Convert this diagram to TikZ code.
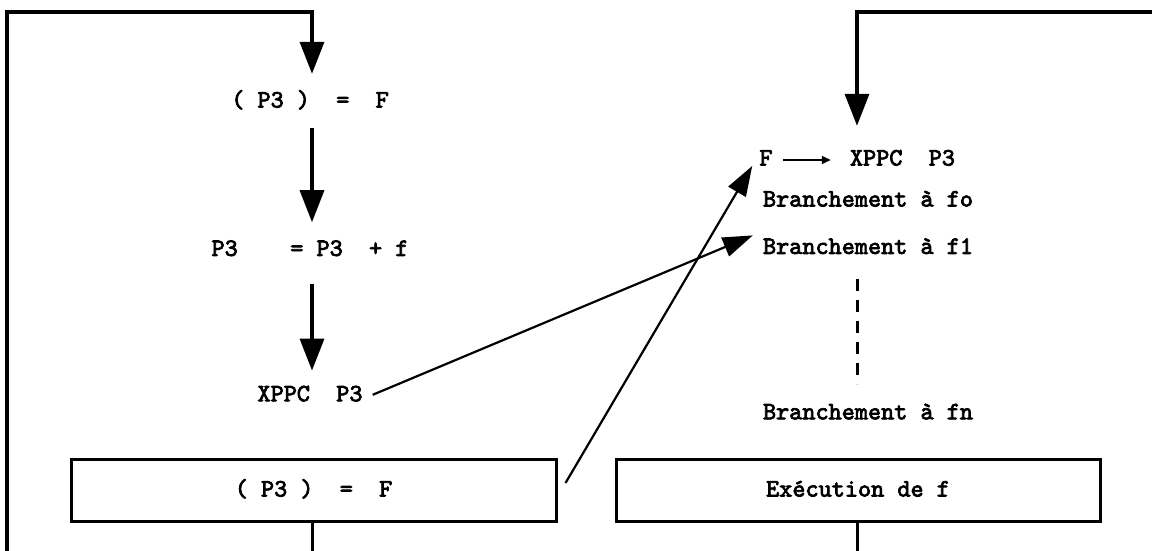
\documentclass[tikz,border=0pt]{standalone}
\usepackage{fontspec}
\newfontfamily\typer{lmmono10-regular}[Extension=.otf, FakeBold=3]
\usepackage{tikz}
\usetikzlibrary{positioning, arrows.meta}

\begin{document}
\begin{tikzpicture}[x=1pt, y=1pt, node distance=0mm]
      \tikzset{
        txt/.style={
          font=\typer\fontsize{25}{28}\selectfont,
          inner sep=0pt, text height=16pt, text depth=5pt
        },
        block/.style={
          txt, draw=black, line width=3pt, minimum width=485pt,
          minimum height=62pt
        },
        flow/.style={line width=3.5pt, -{Triangle[length=32pt, width=24pt]}},
        jump/.style={line width=2.2pt, -{Triangle[length=30pt, width=20pt]}},
        tiny/.style={line width=1.6pt, -{Triangle[length=9pt, width=8pt]}},
        wire/.style={line width=3pt},
        dots/.style={line width=3pt, dash pattern=on 12pt off 9pt}
      }
      \useasboundingbox (0,0) rectangle (1152,551);
      \coordinate (lbase) at (7,0);
      \coordinate (ltop) at (312,539);
      \coordinate (lout) at (312,0);
      \coordinate (rright) at (1152,539);
      \coordinate (rtop) at (857,539);
      \coordinate (rout) at (857,0);

      \node[txt] (cell1) at (310,449) {(~P3~)~~=~~F};
      \node[txt, below=127pt of cell1] (incr) {P3~~~~=~P3~~+~f};
      \node[txt, below=124pt of incr] (xppc) {XPPC~~P3};
      \node[block] (lbox) at (313.5,60) {(~P3~)~~=~~F};

      \node[txt] (fnode) at (766,391) {F};
      \node[txt, right=77pt of fnode] (xppcr) {XPPC~~P3};
      \node[txt] (b0) at (868,350) {Branchement à fo};
      \node[txt, below=26pt of b0] (b1) {Branchement à f1};
      \node[txt, below=144pt of b1] (bn) {Branchement à fn};
      \node[block, minimum width=484pt] (rbox) at (858,60) {Exécution de f};

      \draw[flow, shorten >=17.5pt] (lbase) |- (ltop) -- (ltop |- cell1.north);
      \draw[flow, shorten <=15.5pt, shorten >=17.5pt] (cell1.south -| ltop) -- (incr.north -| ltop);
      \draw[flow, shorten <=22.5pt, shorten >=14.5pt] (incr.south -| ltop) -- (xppc.north -| ltop);
      \draw[wire] (lbox.south -| lout) -- (lout);

      \draw[flow, shorten >=23.5pt] (rright) -- (rtop) -- (rtop |- xppcr.north);
      \draw[tiny, shorten <=10pt, shorten >=19pt] (fnode.east) -- (xppcr.west);
      \draw[dots, shorten <=19.5pt, shorten >=19.5pt] (b1.south -| rtop) -- (bn.north -| rtop);
      \draw[wire] (rbox.south -| rout) -- (rout);

      \draw[jump] ([xshift=10pt, yshift=1pt]xppc.east) -- ([xshift=-10pt, yshift=13pt]b1.west);
      \draw[jump] ([xshift=8pt, yshift=8pt]lbox.east) -- ([xshift=-7pt, yshift=-6pt]fnode.west);
    \end{tikzpicture}
\end{document}
